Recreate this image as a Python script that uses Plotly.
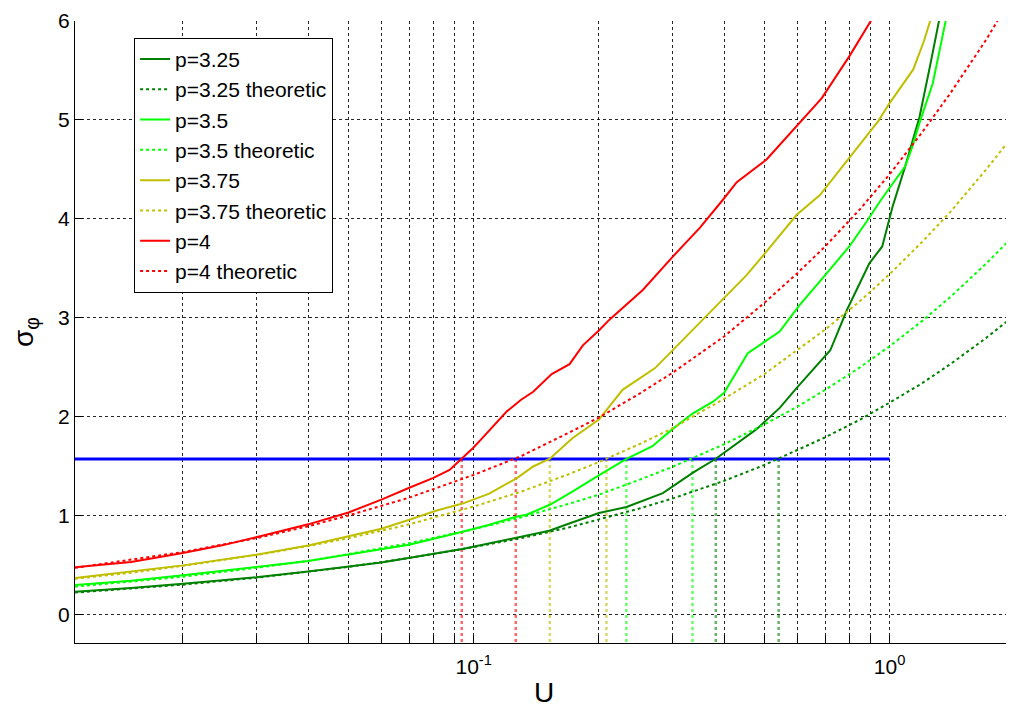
import math
import plotly.graph_objects as go

# ---------------- data ----------------
# simulated curves  (U, sigma_phi)
U_p325 = [0.011, 0.015, 0.02, 0.03, 0.04, 0.05, 0.06, 0.094, 0.127, 0.152, 0.1665, 0.2,
          0.233, 0.285, 0.336, 0.382, 0.478, 0.545, 0.598, 0.72, 0.79, 0.894, 0.96,
          1.016, 1.09, 1.18, 1.25, 1.32]
S_p325 = [0.229, 0.265, 0.31, 0.374, 0.434, 0.485, 0.525, 0.66, 0.78, 0.845, 0.906, 1.024,
          1.085, 1.226, 1.43, 1.573, 1.87, 2.09, 2.29, 2.67, 3.08, 3.55, 3.72,
          4.12, 4.53, 5.03, 5.54, 6.04]

U_p35 = [0.011, 0.015, 0.02, 0.03, 0.04, 0.05, 0.06, 0.07, 0.094, 0.109, 0.127, 0.134,
         0.1524, 0.1727, 0.2008, 0.233, 0.269, 0.30, 0.336, 0.376, 0.40, 0.456, 0.544,
         0.608, 0.70, 0.80, 0.88, 0.953, 1.09, 1.13, 1.18, 1.27, 1.37]
S_p35 = [0.297, 0.34, 0.394, 0.478, 0.539, 0.605, 0.655, 0.704, 0.835, 0.906, 0.99, 1.007,
         1.108, 1.24, 1.41, 1.573, 1.70, 1.87, 2.03, 2.15, 2.24, 2.64, 2.86,
         3.13, 3.43, 3.72, 3.97, 4.19, 4.53, 4.71, 4.97, 5.37, 6.04]

U_p375 = [0.011, 0.015, 0.02, 0.03, 0.04, 0.05, 0.06, 0.07, 0.0815, 0.094, 0.109, 0.127,
          0.139, 0.1524, 0.1727, 0.2, 0.228, 0.273, 0.299, 0.362, 0.453, 0.506, 0.598,
          0.68, 0.79, 0.94, 1.0, 1.14, 1.21, 1.26]
S_p375 = [0.368, 0.43, 0.495, 0.603, 0.697, 0.79, 0.865, 0.957, 1.05, 1.12, 1.22, 1.378,
          1.495, 1.573, 1.78, 1.97, 2.27, 2.49, 2.66, 3.01, 3.43, 3.67, 4.04,
          4.24, 4.59, 4.99, 5.17, 5.51, 5.80, 6.04]

U_p4 = [0.011, 0.015, 0.02, 0.025, 0.03, 0.035, 0.04, 0.05, 0.06, 0.07, 0.08, 0.0875,
        0.094, 0.0995, 0.105, 0.12, 0.13, 0.139, 0.154, 0.17, 0.183, 0.2, 0.212, 0.255,
        0.3, 0.35, 0.397, 0.429, 0.506, 0.608, 0.687, 0.802, 0.91]
S_p4 = [0.475, 0.53, 0.62, 0.70, 0.78, 0.85, 0.91, 1.03, 1.16, 1.28, 1.38, 1.46,
        1.58, 1.68, 1.785, 2.05, 2.17, 2.25, 2.43, 2.53, 2.72, 2.87, 2.98, 3.28,
        3.61, 3.91, 4.19, 4.37, 4.60, 4.97, 5.22, 5.65, 6.03]

# theoretic curves, read at common U values
U_th = [0.011, 0.015, 0.02, 0.03, 0.04, 0.05, 0.07, 0.1, 0.13, 0.17, 0.2, 0.25, 0.3,
        0.4, 0.5, 0.6, 0.7, 0.85, 1.0, 1.2, 1.4, 1.7, 1.98]
S_p325_th = [0.22, 0.26, 0.30, 0.37, 0.43, 0.48, 0.57, 0.68, 0.77, 0.88, 0.96, 1.07, 1.17,
             1.35, 1.51, 1.66, 1.79, 1.97, 2.14, 2.34, 2.53, 2.79, 3.01]
S_p35_th = [0.28, 0.33, 0.38, 0.47, 0.54, 0.61, 0.72, 0.86, 0.98, 1.12, 1.21, 1.36, 1.49,
            1.72, 1.92, 2.10, 2.27, 2.50, 2.71, 2.97, 3.21, 3.54, 3.82]
S_p375_th = [0.36, 0.42, 0.49, 0.60, 0.69, 0.77, 0.91, 1.09, 1.24, 1.42, 1.54, 1.72, 1.88,
             2.18, 2.43, 2.67, 2.88, 3.17, 3.44, 3.77, 4.07, 4.49, 4.84]
S_p4_th = [0.47, 0.55, 0.63, 0.77, 0.89, 1.00, 1.18, 1.41, 1.60, 1.84, 1.99, 2.23, 2.44,
           2.81, 3.15, 3.45, 3.72, 4.10, 4.45, 4.88, 5.27, 5.80, 6.26]

# threshold line and where each curve crosses it
THRESH = math.pi / 2
U_thresh = [0.011, 1.0]
U_cross_sim = {"p325": 0.382, "p35": 0.2328, "p375": 0.1524, "p4": 0.0936}
U_cross_th = {"p325": 0.541, "p35": 0.3357, "p375": 0.2085, "p4": 0.1262}

labels = {"p325": "p=3.25", "p35": "p=3.5", "p375": "p=3.75", "p4": "p=4"}
colors = {"p325": "#008000", "p35": "#00FF00", "p375": "#BFBF00", "p4": "#FF0000"}
faded = {"p325": "rgba(0,128,0,0.6)", "p35": "rgba(0,255,0,0.6)",
         "p375": "rgba(191,191,0,0.6)", "p4": "rgba(255,0,0,0.6)"}
sim = {"p325": (U_p325, S_p325), "p35": (U_p35, S_p35),
       "p375": (U_p375, S_p375), "p4": (U_p4, S_p4)}
theo = {"p325": S_p325_th, "p35": S_p35_th, "p375": S_p375_th, "p4": S_p4_th}

Y_MIN, Y_MAX = -0.29, 6.0
X_MIN, X_MAX = 0.011, 1.98

x_tickvals = [0.02, 0.03, 0.04, 0.05, 0.06, 0.07, 0.08, 0.09, 0.1,
              0.2, 0.3, 0.4, 0.5, 0.6, 0.7, 0.8, 0.9, 1.0]
x_ticktext = ["" for _ in x_tickvals]
x_ticktext[x_tickvals.index(0.1)] = "10<sup>-1</sup>"
x_ticktext[x_tickvals.index(1.0)] = "10<sup>0</sup>"

FONT = "Liberation Sans, Arial, sans-serif"

fig = go.Figure()

# vertical drop lines (not in legend), drawn first
for k in ["p325", "p35", "p375", "p4"]:
    for u in (U_cross_sim[k], U_cross_th[k]):
        fig.add_trace(go.Scatter(x=[u, u], y=[THRESH, Y_MIN - 0.1], mode="lines",
                                 line=dict(color=faded[k], width=2.5, dash="dot"),
                                 showlegend=False, hoverinfo="skip"))

# threshold line
fig.add_trace(go.Scatter(x=U_thresh, y=[THRESH, THRESH], mode="lines",
                         line=dict(color="#0000FF", width=3), showlegend=False))

for i, k in enumerate(["p325", "p35", "p375", "p4"]):
    ux, sy = sim[k]
    fig.add_trace(go.Scatter(x=ux, y=sy, mode="lines", name=labels[k],
                             legendgroup=f"g{2*i}", legendrank=2 * i,
                             line=dict(color=colors[k], width=2)))
    fig.add_trace(go.Scatter(x=U_th, y=theo[k], mode="lines",
                             name=labels[k] + " theoretic",
                             legendgroup=f"g{2*i+1}", legendrank=2 * i + 1,
                             line=dict(color=colors[k], width=2, dash="dot")))

axis_common = dict(showline=True, linecolor="black", linewidth=1, mirror=False,
                   ticks="inside", ticklen=8, tickcolor="black",
                   showgrid=True, gridcolor="rgba(0,0,0,0.85)", gridwidth=1, griddash="dot",
                   zeroline=False, automargin=False,
                   tickfont=dict(family=FONT, size=21, color="black"))

# the page body adds an 8px margin, so the figure is sized to fit inside the window
fig.update_layout(
    width=1006, height=700,
    margin=dict(l=67, r=1, t=13, b=65),
    paper_bgcolor="white", plot_bgcolor="white",
    font=dict(family=FONT, color="black"),
    xaxis=dict(type="log", range=[math.log10(X_MIN), math.log10(X_MAX)],
               tickvals=x_tickvals, ticktext=x_ticktext, ticklabelstandoff=5,
               title=dict(text="U", font=dict(family=FONT, size=28), standoff=14),
               **axis_common),
    yaxis=dict(range=[Y_MIN, Y_MAX], tickvals=[0, 1, 2, 3, 4, 5, 6],
               title=dict(text="σ<sub>φ</sub>", font=dict(family=FONT, size=28), standoff=22),
               **axis_common),
    legend=dict(x=0.063, y=0.973, xanchor="left", yanchor="top",
                bgcolor="white", bordercolor="black", borderwidth=1,
                font=dict(family=FONT, size=21, color="black"),
                traceorder="grouped", tracegroupgap=0),
    showlegend=True,
)

fig.write_html("out.html")
